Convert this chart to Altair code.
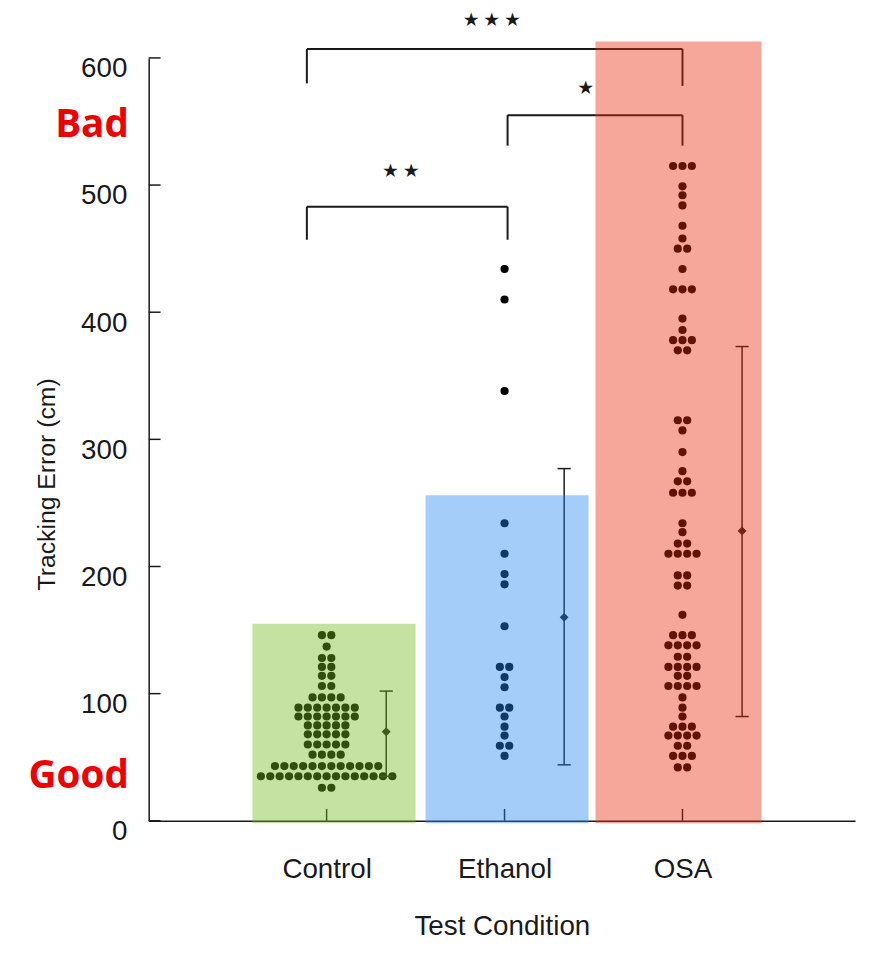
import altair as alt
import pandas as pd

# ---------------- data ----------------
categories = ["Control", "Ethanol", "OSA"]
cat_pos = [1, 2, 3]

control_rows = [146, 137, 128, 121, 114, 106, 97, 89, 82, 75, 68, 60, 52, 43, 35, 26]
control_counts = [2, 1, 2, 2, 2, 2, 4, 7, 7, 5, 5, 5, 4, 12, 15, 2]

ethanol_rows = [434, 410, 338, 234, 210, 194, 186, 153, 121, 113, 105, 89, 82, 74, 67, 59, 51]
ethanol_counts = [1, 1, 1, 1, 1, 1, 1, 1, 2, 1, 1, 2, 1, 1, 1, 2, 1]

osa_rows = [515, 499, 492, 484, 468, 458, 450, 434, 418, 395,
            386, 378, 370, 315, 307, 290, 275, 267, 258, 234,
            227, 218, 210, 193, 185, 162, 146, 138, 129, 121,
            114, 106, 97, 89, 82, 74, 67, 59, 51, 42]
osa_counts = [3, 1, 1, 1, 1, 1, 2, 1, 3, 1,
              1, 3, 2, 2, 1, 1, 1, 2, 3, 1,
              1, 2, 4, 2, 2, 1, 3, 4, 2, 4,
              2, 4, 1, 1, 1, 3, 4, 2, 3, 2]

# overlay boxes
bar_top = [155, 256, 613]
bar_left = [0.583, 1.556, 2.511]
bar_right = [1.5, 2.472, 3.444]
bar_colors = ["#75BA22", "#2988F3", "#E6300C"]

# mean +/- error
err_low = [35, 44, 82]
err_mean = [70, 160, 228]
err_high = [102, 277, 373]

# significance brackets
brk_from = [0.889, 2.017, 0.889]
brk_to = [2.017, 3.0, 3.0]
brk_top = [483, 555, 607]
brk_end_left = [457, 531, 580]
brk_end_right = [457, 531, 578]
brk_label = ["\u2605\u2009\u2605", "\u2605", "\u2605\u2009\u2605\u2009\u2605"]
brk_label_x = [1.417, 2.456, 1.928]
brk_label_y = [511, 576, 630]

y_ticks = [0, 100, 200, 300, 400, 500, 600]
side_labels = ["Bad", "Good"]
side_label_y = [538, 26]

# ---------------- layout / style ----------------
W, H = 713, 770
DOT_STEP = 9.5 / 180.0      # horizontal dot spacing in x units
ERR_SHIFT = 0.335
CAP = 0.037
FONT = "Liberation Sans"
INK = "#1a1a1a"

xs = alt.Scale(domain=[0, 3.97], nice=False, zero=False)
ys = alt.Scale(domain=[0, 600], nice=False, zero=False)

x_axis = alt.Axis(
    values=cat_pos,
    labelExpr="['', 'Control', 'Ethanol', 'OSA'][datum.value]",
    ticks=False, grid=False, domainColor=INK, domainWidth=1.5,
    labelFont=FONT, labelFontSize=28, labelColor=INK, labelPadding=35,
    labelOverlap=False, labelFlush=False,
    title="Test Condition", titleFont=FONT, titleFontSize=28,
    titleFontWeight="normal", titleColor=INK, titleY=115,
    titleBaseline="alphabetic",
)
y_axis = alt.Axis(
    values=y_ticks, ticks=False, grid=False, domainColor=INK, domainWidth=1.5,
    labelFont=FONT, labelFontSize=28, labelColor=INK, labelPadding=22,
    labelOffset=11, labelOverlap=False, labelFlush=False,
    title="Tracking Error (cm)", titleFont=FONT, titleFontSize=25,
    titleFontWeight="normal", titleColor=INK, titleX=-95, titleY=430,
    titleAngle=270, titleBaseline="alphabetic", titleAlign="center",
)


def X(field):
    return alt.X(field, scale=xs, axis=x_axis, title="Test Condition")


def Y(field):
    return alt.Y(field, scale=ys, axis=y_axis, title="Tracking Error (cm)")


# beeswarm rows -> dot positions
dots = []
for cat, p, rows, counts in zip(categories, cat_pos,
                                [control_rows, ethanol_rows, osa_rows],
                                [control_counts, ethanol_counts, osa_counts]):
    for v, n in zip(rows, counts):
        for i in range(n):
            dots.append({"cat": cat, "x": p + (i - (n - 1) / 2) * DOT_STEP, "v": v})
dots_df = pd.DataFrame(dots)

bars_df = pd.DataFrame({"cat": categories, "x1": bar_left, "x2": bar_right,
                        "top": bar_top, "c": bar_colors})
bars_df["bottom"] = -2

err_df = pd.DataFrame({"cat": categories, "lo": err_low, "m": err_mean, "hi": err_high})
err_df["x"] = [p + ERR_SHIFT for p in cat_pos]
err_df["xa"] = err_df["x"] - CAP
err_df["xb"] = err_df["x"] + CAP

brk_h = pd.DataFrame({"a": brk_from, "b": brk_to, "y": brk_top})
brk_v = pd.DataFrame({
    "x": brk_from + brk_to,
    "y1": brk_top + brk_top,
    "y2": brk_end_left + brk_end_right,
})
stars_df = pd.DataFrame({"t": brk_label, "x": brk_label_x, "y": brk_label_y})
yt_df = pd.DataFrame({"v": y_ticks})
xt_df = pd.DataFrame({"p": cat_pos})
side_df = pd.DataFrame({"t": side_labels, "y": side_label_y})

# ---------------- layers ----------------
dot_layer = alt.Chart(dots_df).mark_circle(size=68, color="black", opacity=1).encode(
    x=X("x:Q"), y=Y("v:Q"),
)

err_line = alt.Chart(err_df).mark_rule(color=INK, strokeWidth=1.5).encode(
    x=X("x:Q"), y=Y("lo:Q"), y2="hi:Q",
)
err_cap_hi = alt.Chart(err_df).mark_rule(color=INK, strokeWidth=1.5).encode(
    x=X("xa:Q"), x2="xb:Q", y=Y("hi:Q"),
)
err_cap_lo = alt.Chart(err_df).mark_rule(color=INK, strokeWidth=1.5).encode(
    x=X("xa:Q"), x2="xb:Q", y=Y("lo:Q"),
)
err_mean_pt = alt.Chart(err_df).mark_point(shape="diamond", filled=True, size=80,
                                           color=INK, opacity=1).encode(
    x=X("x:Q"), y=Y("m:Q"),
)

brk_h_layer = alt.Chart(brk_h).mark_rule(color=INK, strokeWidth=2).encode(
    x=X("a:Q"), x2="b:Q", y=Y("y:Q"),
)
brk_v_layer = alt.Chart(brk_v).mark_rule(color=INK, strokeWidth=2).encode(
    x=X("x:Q"), y=Y("y1:Q"), y2="y2:Q",
)
stars_layer = alt.Chart(stars_df).mark_text(font="DejaVu Sans", fontSize=19,
                                            color=INK, baseline="middle").encode(
    x=X("x:Q"), y=Y("y:Q"), text="t:N",
)

ytick_layer = alt.Chart(yt_df).mark_rule(color=INK, strokeWidth=1.5).encode(
    x=alt.value(0), x2=alt.value(12), y=Y("v:Q"),
)
xtick_layer = alt.Chart(xt_df).mark_rule(color=INK, strokeWidth=1.5).encode(
    x=X("p:Q"), y=alt.value(H), y2=alt.value(H - 12),
)

bar_layer = alt.Chart(bars_df).mark_rect(opacity=0.42).encode(
    x=X("x1:Q"), x2="x2:Q",
    y=Y("bottom:Q"), y2="top:Q",
    color=alt.Color("c:N", scale=None),
)

side_layer = alt.Chart(side_df).mark_text(font="Open Sans", fontSize=39, fontWeight="bold",
                                          color="#f00000", align="right",
                                          baseline="alphabetic").encode(
    x=alt.value(-20), y=Y("y:Q"), text="t:N",
)

chart = alt.layer(
    dot_layer, err_line, err_cap_hi, err_cap_lo, err_mean_pt,
    brk_h_layer, brk_v_layer, stars_layer, ytick_layer, xtick_layer,
    bar_layer, side_layer,
).properties(
    width=W, height=H,
    padding={"left": 142, "top": 46, "right": 8, "bottom": 122},
    autosize=alt.AutoSizeParams(type="none"),
    background="white",
).configure_view(stroke=None)

chart.save("out.html", embed_options={"renderer": "svg", "actions": False})
